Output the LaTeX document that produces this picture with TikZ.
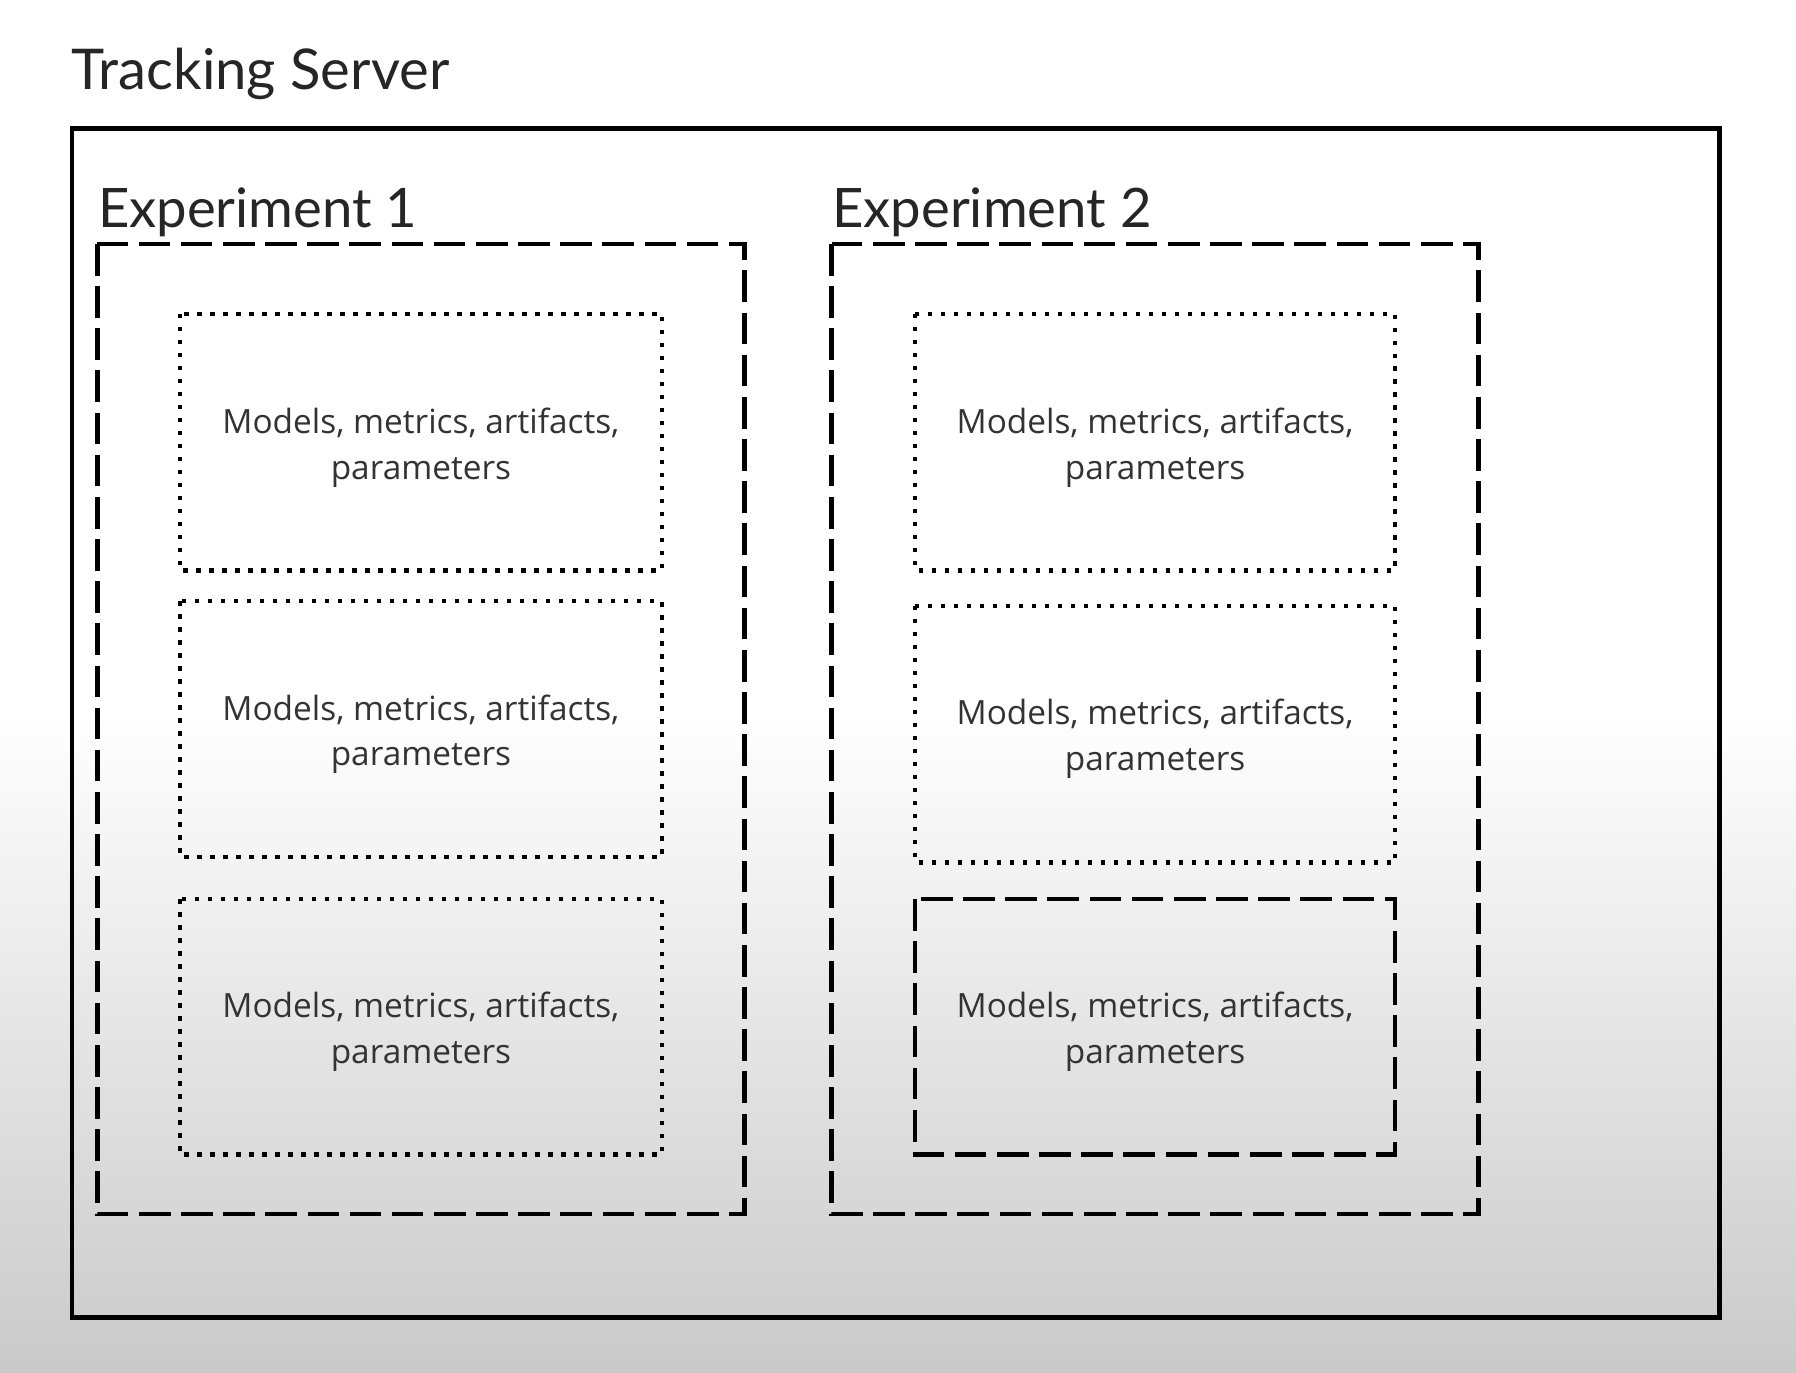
\documentclass[tikz,border=0pt]{standalone}
\usepackage{fontspec}
\setmainfont{Open Sans}
\newfontfamily\headfont{Lato}
\usepackage{xcolor}
\definecolor{inktext}{HTML}{333333}
\tikzset{
  serverbox/.style={line width=1.3pt},
  expbox/.style={line width=1.3pt,dash pattern=on 9pt off 3pt},
  runbox/.style={line width=1.2pt,dash pattern=on 1.3pt off 2.4pt},
  runboxdash/.style={line width=1.3pt,dash pattern=on 9pt off 3pt},
  headlabel/.style={anchor=base west,inner sep=0pt,font=\headfont\fontsize{16}{19}\selectfont,text=black!85},
  explabel/.style={headlabel,font=\headfont\fontsize{15.5}{19}\selectfont},
  runlabel/.style={align=center,inner sep=0pt,font=\fontsize{9.5}{13}\selectfont,text=inktext}
}

\begin{document}
\begin{tikzpicture}[x=0.011454cm,y=-0.011454cm]
            \useasboundingbox (0,0) rectangle (1568,1198);
            \fill[white] (0,0) rectangle (1568,1198);
            \shade[top color=white,bottom color=black!21] (0,620) rectangle (1568,1198);
            % server
            \node[headlabel] (server) at (62,78) {Tracking Server};
            \draw[serverbox] (63,112) rectangle (1501,1150);
            % experiments
            \node[explabel] (exp1) at (85,199) {Experiment 1};
            \draw[expbox] (85,213) rectangle (650,1060);
            \node[explabel] (exp2) at (726,199) {Experiment 2};
            \draw[expbox] (726,213) rectangle (1291,1060);
            % runs of experiment 1
            \draw[runbox] (157,274) rectangle (578,498);
            \node[runlabel] (run11) at (367.5,391) {Models, metrics, artifacts,\\parameters};
            \draw[runbox] (157,525) rectangle (578,748);
            \node[runlabel] (run12) at (367.5,641) {Models, metrics, artifacts,\\parameters};
            \draw[runbox] (157,785) rectangle (578,1008);
            \node[runlabel] (run13) at (367.5,901) {Models, metrics, artifacts,\\parameters};
            % runs of experiment 2
            \draw[runbox] (799,274) rectangle (1218,498);
            \node[runlabel] (run21) at (1008.5,391) {Models, metrics, artifacts,\\parameters};
            \draw[runbox] (799,529) rectangle (1218,753);
            \node[runlabel] (run22) at (1008.5,645) {Models, metrics, artifacts,\\parameters};
            \draw[runboxdash] (799,785) rectangle (1218,1008);
            \node[runlabel] (run23) at (1008.5,901) {Models, metrics, artifacts,\\parameters};
        \end{tikzpicture}
\end{document}
